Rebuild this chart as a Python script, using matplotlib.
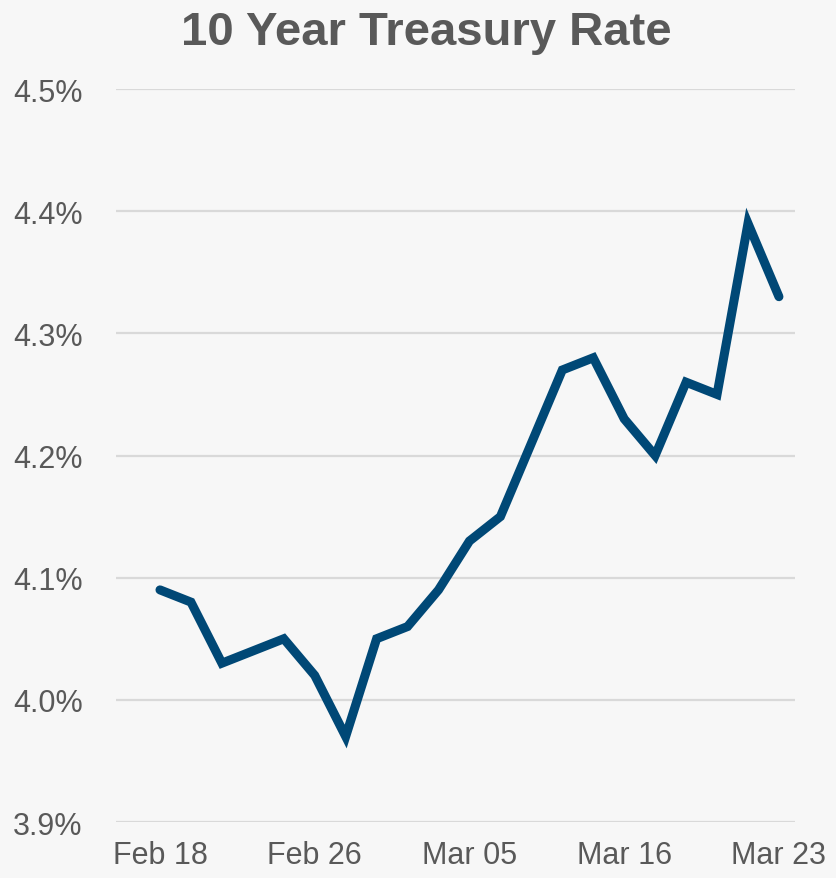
import matplotlib.pyplot as plt
from matplotlib.ticker import FuncFormatter

# 10 year treasury yield, daily closes (%)
rates = [4.09, 4.08, 4.03, 4.04, 4.05, 4.02, 3.97, 4.05, 4.06, 4.09, 4.13,
         4.15, 4.21, 4.27, 4.28, 4.23, 4.20, 4.26, 4.25, 4.39, 4.33]
tick_pos = [0, 5, 10, 15, 20]
tick_labels = ['Feb 18', 'Feb 26', 'Mar 05', 'Mar 16', 'Mar 23']
y_ticks = [3.9, 4.0, 4.1, 4.2, 4.3, 4.4, 4.5]

plt.rcParams['font.family'] = ['Liberation Sans', 'DejaVu Sans']

bg = '#f7f7f7'
grey = '#595959'

fig = plt.figure(figsize=(8.36, 8.79), dpi=100, facecolor=bg)
ax = fig.add_axes([0.1388, 0.0637, 0.951 - 0.1388, 0.8976 - 0.0637])
ax.set_facecolor(bg)

x = list(range(len(rates)))
ax.plot(x, rates, color='#004876', linewidth=6.5, solid_joinstyle='miter',
        solid_capstyle='round', zorder=3)

ax.set_ylim(3.9, 4.5)
ax.set_xlim(-1.42, 20.52)
ax.set_yticks(y_ticks)
ax.yaxis.set_major_formatter(FuncFormatter(lambda v, p: f'{v:.1f}%'))
ax.set_xticks(tick_pos)
ax.set_xticklabels(tick_labels)

ax.grid(axis='y', color='#d9d9d9', linewidth=1.6, zorder=0)
for s in ax.spines.values():
    s.set_visible(False)
ax.tick_params(axis='both', length=0, labelsize=22, labelcolor=grey)
ax.tick_params(axis='y', pad=24)
ax.tick_params(axis='x', pad=13)

fig.text(0.51, 1 - 45 / 879, '10 Year Treasury Rate', ha='center',
         va='baseline', fontsize=34, fontweight='bold', color=grey)

fig.savefig('out.png', dpi=100, facecolor=bg)
